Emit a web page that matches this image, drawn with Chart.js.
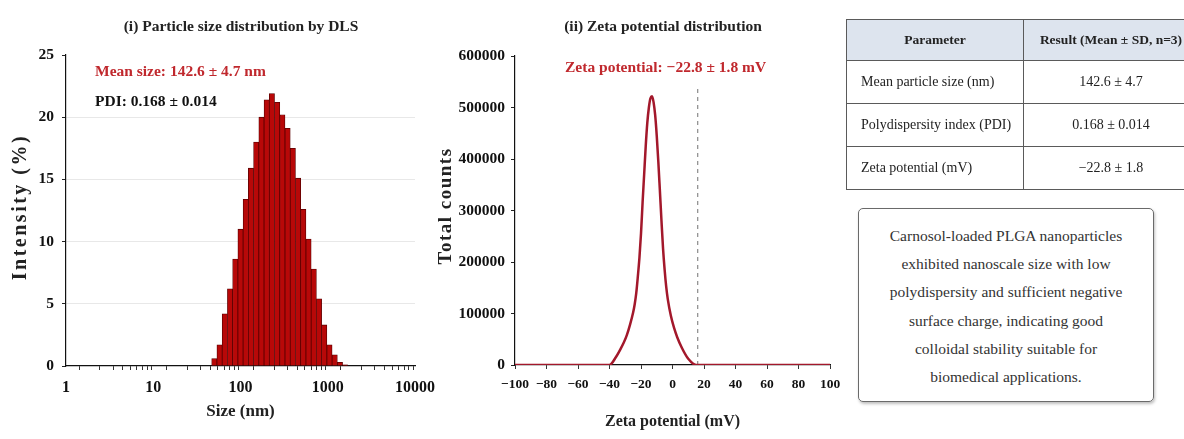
<!DOCTYPE html>
<html>
<head>
<meta charset="utf-8">
<script src="https://cdn.jsdelivr.net/npm/chart.js@4.4.1/dist/chart.umd.min.js"></script>
<style>
  html, body { margin: 0; padding: 0; background: #fff; }
  body { width: 1184px; height: 439px; position: relative; overflow: hidden; font-family: 'Liberation Serif', 'Times New Roman', serif; }
  #dls { position: absolute; left: 0; top: 0; }
  #zeta { position: absolute; left: 430px; top: 0; }
  table { position: absolute; left: 846px; top: 19px; border-collapse: collapse; table-layout: fixed; width: 352px; color: #222; }
  th, td { border: 1.5px solid #5a5a5a; padding: 0; white-space: nowrap; }
  th { background: #dde4ee; font-weight: bold; font-size: 13.5px; height: 40px; text-align: center; }
  td { font-size: 14px; height: 42px; background: #fff; }
  td.p { text-align: left; padding-left: 14px; }
  td.v { text-align: center; }
  .note { position: absolute; left: 858px; top: 208px; width: 296px; height: 194px; box-sizing: border-box;
          border: 1.5px solid #6a6a6a; border-radius: 5px; box-shadow: 1px 2px 3px rgba(0,0,0,0.25);
          font-size: 15.5px; line-height: 28.2px; text-align: center; color: #333; padding-top: 13px; }
</style>
</head>
<body>
<canvas id="dls" width="445" height="439"></canvas>
<canvas id="zeta" width="420" height="439"></canvas>

<table>
  <colgroup><col style="width:177px"><col style="width:175px"></colgroup>
  <tr><th>Parameter</th><th>Result (Mean ± SD, n=3)</th></tr>
  <tr><td class="p">Mean particle size (nm)</td><td class="v">142.6 ± 4.7</td></tr>
  <tr><td class="p">Polydispersity index (PDI)</td><td class="v">0.168 ± 0.014</td></tr>
  <tr><td class="p">Zeta potential (mV)</td><td class="v">−22.8 ± 1.8</td></tr>
</table>

<div class="note">
  Carnosol-loaded PLGA nanoparticles<br>
  exhibited nanoscale size with low<br>
  polydispersity and sufficient negative<br>
  surface charge, indicating good<br>
  colloidal stability suitable for<br>
  biomedical applications.
</div>

<script>
// (i) DLS size distribution, bins
const sizeNm = [50.1, 57.5, 66.1, 75.9, 87.1, 100, 114.8, 131.8, 151.4, 173.8, 199.5, 229.1, 263.0,
                302.0, 346.7, 398.1, 457.1, 524.8, 602.6, 691.8, 794.3, 912.0, 1047, 1202, 1380, 1585];
const intensityPct = [0.6, 1.7, 4.2, 6.2, 8.6, 11.0, 13.4, 15.9, 18.0, 20.0, 21.4, 21.9, 21.2,
                      20.2, 19.1, 17.5, 15.1, 12.6, 10.2, 7.8, 5.4, 3.3, 1.7, 0.9, 0.3, 0.1];

// (ii) zeta potential distribution
const zetaMv = [-100, -40, -36, -33, -31, -29, -27, -25, -24, -23, -22, -21, -20, -19, -18, -17, -16, -15,
                -14, -13, -12, -11, -10, -9, -8, -7, -6, -5, -4, -3, -1, 1, 3, 6, 10, 15, 100];
const zetaCounts = [0, 0, 15000, 31000, 43000, 58000, 78000, 102000, 118000, 140000, 172000, 208000, 255000,
                    315000, 370000, 425000, 470000, 500000, 518000, 522000, 510000, 485000, 445000, 395000,
                    338000, 280000, 226000, 185000, 152000, 128000, 95000, 72000, 54000, 33000, 12000, 0, 0];
const refLineMv = 16;
const refLineTop = 540000;

const serif = "'Liberation Serif', 'Times New Roman', serif";
const red = '#c0282d';

const notesPlugin = {
  id: 'notes',
  afterDraw(chart, args, opts) {
    const ctx = chart.ctx;
    (opts.items || []).forEach(n => {
      ctx.save();
      ctx.font = n.font;
      ctx.fillStyle = n.color || '#222';
      ctx.textBaseline = 'middle';
      ctx.textAlign = n.align || 'left';
      if (n.spacing) ctx.letterSpacing = n.spacing;
      ctx.translate(n.x, n.y);
      if (n.rotate) ctx.rotate(n.rotate);
      ctx.fillText(n.text, 0, 0);
      ctx.restore();
    });
  }
};
Chart.register(notesPlugin);

const isPow10 = v => { const l = Math.log10(v); return Math.abs(l - Math.round(l)) < 1e-9; };

new Chart(document.getElementById('dls'), {
  type: 'bar',
  data: {
    datasets: [{
      data: sizeNm.map((s, i) => ({ x: s, y: intensityPct[i] })),
      backgroundColor: '#b80808',
      borderColor: '#5a0000',
      borderWidth: 0.8,
      barThickness: 'flex',
      categoryPercentage: 1,
      barPercentage: 1
    }]
  },
  options: {
    responsive: false,
    animation: false,
    devicePixelRatio: 1,
    layout: { padding: { left: 0, right: 30, top: 55, bottom: 13 } },
    plugins: {
      legend: { display: false },
      tooltip: { enabled: false },
      notes: { items: [
        { text: '(i) Particle size distribution by DLS', x: 241, y: 27, align: 'center', font: 'bold 15.5px ' + serif, color: '#222' },
        { text: 'Mean size: 142.6 ± 4.7 nm', x: 95, y: 72, font: 'bold 15.5px ' + serif, color: red },
        { text: 'PDI: 0.168 ± 0.014', x: 95, y: 102, font: 'bold 15.5px ' + serif, color: '#111' },
        { text: 'Intensity (%)', x: 21, y: 207, align: 'center', rotate: -Math.PI / 2, spacing: '2.5px', font: 'bold 20px ' + serif, color: '#222' }
      ] }
    },
    scales: {
      x: {
        type: 'logarithmic',
        min: 1, max: 10000,
        afterFit: s => { s.height = 60; },
        border: { display: true, color: '#111', width: 1.2 },
        grid: { drawOnChartArea: false, drawTicks: true, tickLength: 4, tickColor: '#333' },
        ticks: {
          autoSkip: false, maxRotation: 0, padding: 8, color: '#111',
          font: { family: serif, size: 16, weight: 'bold' },
          callback: v => {
            if (isPow10(v)) return String(v);
            const s = v / Math.pow(10, Math.floor(Math.log10(v)));
            return Math.abs(s - 1.5) < 1e-6 ? null : '';
          }
        },
        title: { display: true, text: 'Size (nm)', color: '#222', font: { family: serif, size: 17, weight: 'bold' }, padding: { top: 0, bottom: 4 } }
      },
      y: {
        min: 0, max: 25,
        afterFit: s => { s.width = 66; },
        border: { display: true, color: '#111', width: 1.2 },
        grid: {
          color: c => (c.tick && c.tick.value > 0 && c.tick.value < 25) ? '#e8e8e8' : 'rgba(0,0,0,0)',
          tickColor: '#222', tickLength: 4
        },
        ticks: { stepSize: 5, padding: 8, color: '#111', font: { family: serif, size: 15.5, weight: 'bold' } }
      }
    }
  }
});

new Chart(document.getElementById('zeta'), {
  type: 'line',
  data: {
    datasets: [{
      data: zetaMv.map((v, i) => ({ x: v, y: zetaCounts[i] })),
      borderColor: '#a3182b',
      borderWidth: 2.5,
      pointRadius: 0,
      cubicInterpolationMode: 'monotone',
      fill: false
    }, {
      data: [{ x: refLineMv, y: 0 }, { x: refLineMv, y: refLineTop }],
      borderColor: '#8a8a8a',
      borderWidth: 1.2,
      borderDash: [4, 4],
      pointRadius: 0
    }]
  },
  options: {
    responsive: false,
    animation: false,
    devicePixelRatio: 1,
    layout: { padding: { left: 0, right: 20, top: 56, bottom: 5 } },
    plugins: {
      legend: { display: false },
      tooltip: { enabled: false },
      notes: { items: [
        { text: '(ii) Zeta potential distribution', x: 233, y: 27, align: 'center', font: 'bold 15.5px ' + serif, color: '#222' },
        { text: 'Zeta potential: −22.8 ± 1.8 mV', x: 135, y: 68, font: 'bold 15.5px ' + serif, color: red },
        { text: 'Total counts', x: 16, y: 206, align: 'center', rotate: -Math.PI / 2, spacing: '1.5px', font: 'bold 19px ' + serif, color: '#222' }
      ] }
    },
    scales: {
      x: {
        type: 'linear',
        min: -100, max: 100,
        afterFit: s => { s.height = 69; },
        border: { display: true, color: '#111', width: 1.2 },
        grid: { drawOnChartArea: false, drawTicks: true, tickLength: 4, tickColor: '#333' },
        ticks: {
          stepSize: 20, autoSkip: false, maxRotation: 0, padding: 7, color: '#111',
          font: { family: serif, size: 13.5, weight: 'bold' },
          callback: v => v < 0 ? '−' + Math.abs(v) : String(v)
        },
        title: { display: true, text: 'Zeta potential (mV)', color: '#222', font: { family: serif, size: 16, weight: 'bold' }, padding: { top: 0, bottom: 3 } }
      },
      y: {
        min: 0, max: 600000,
        afterFit: s => { s.width = 85; },
        border: { display: true, color: '#111', width: 1.2 },
        grid: { drawOnChartArea: false, tickColor: '#222', tickLength: 4 },
        ticks: { stepSize: 100000, padding: 6, color: '#111', font: { family: serif, size: 15.5, weight: 'bold' }, callback: v => String(v) }
      }
    }
  }
});
</script>
</body>
</html>
